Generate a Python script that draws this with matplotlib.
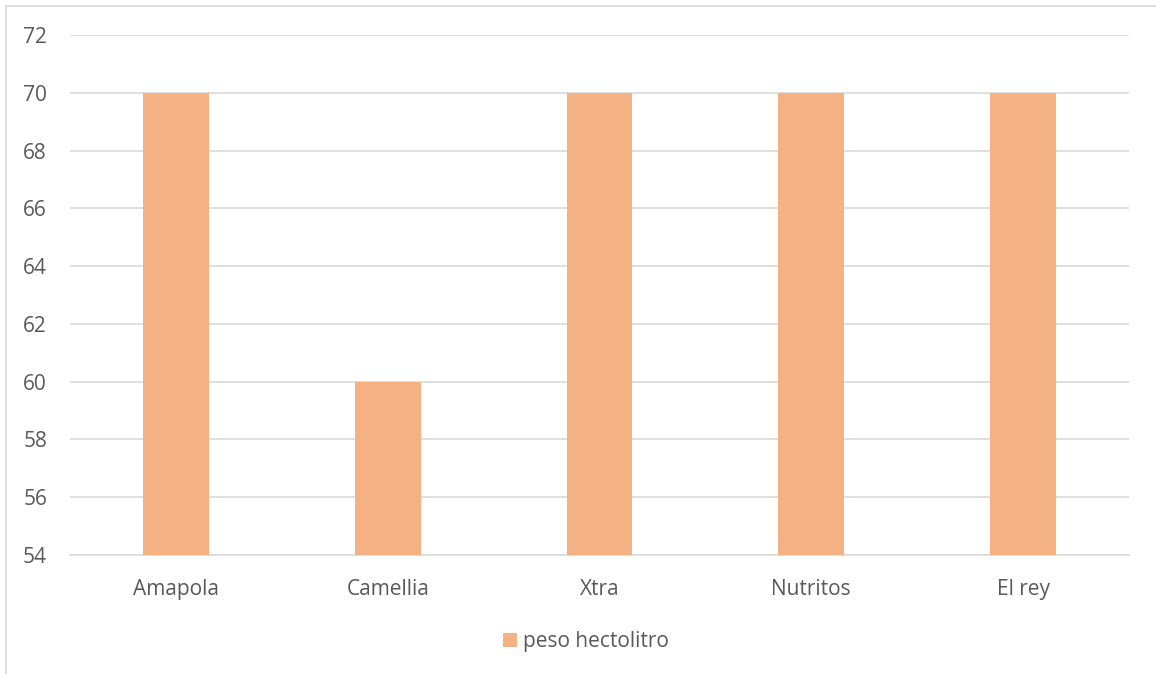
import matplotlib
matplotlib.use("Agg")
import matplotlib.pyplot as plt
from matplotlib.patches import Rectangle
import numpy as np

categories = ["Amapola", "Camellia", "Xtra", "Nutritos", "El rey"]
values = [70, 60, 70, 70, 70]
series_name = "peso hectolitro"
y_ticks = [54, 56, 58, 60, 62, 64, 66, 68, 70, 72]

bar_color = "#F4B183"
text_color = "#595959"
grid_color = "#D9D9D9"

plt.rcParams['font.family'] = ['Open Sans', 'DejaVu Sans']

W, H = 1156, 674
fig = plt.figure(figsize=(W / 100, H / 100), dpi=100)
fig.patch.set_facecolor("white")

# chart border (extends past right/bottom edges)
fig.patches.append(Rectangle((6 / W, -0.05), 1.2, 1 - 6 / H + 0.05,
                             transform=fig.transFigure, fill=False,
                             edgecolor=grid_color, linewidth=1.2))

ax = fig.add_axes([70 / W, 1 - 555 / H, (1129 - 70) / W, (555 - 35) / H])
x = np.arange(len(categories))
bottom = y_ticks[0]
heights = [v - bottom for v in values]
ax.bar(x, heights, bottom=bottom, width=0.31, color=bar_color, zorder=3,
       label=series_name)

ax.set_xlim(-0.5, len(categories) - 0.5)
ax.set_ylim(y_ticks[0], y_ticks[-1])
ax.set_yticks(y_ticks)
ax.set_yticklabels([str(t) for t in y_ticks])
ax.set_xticks(x)
ax.set_xticklabels(categories)

ax.yaxis.grid(True, color=grid_color, linewidth=1.2, zorder=0)
ax.xaxis.grid(False)
for s in ["top", "right", "left"]:
    ax.spines[s].set_visible(False)
ax.spines["bottom"].set_color(grid_color)
ax.spines["bottom"].set_linewidth(1.2)
ax.tick_params(axis="both", length=0, colors=text_color, labelsize=15)
ax.tick_params(axis="y", pad=16.5)
ax.tick_params(axis="x", pad=17)

leg = fig.legend(loc="center", bbox_to_anchor=(586 / W, 1 - 642 / H),
                 frameon=False, fontsize=15, handlelength=0.65,
                 handleheight=0.65, handletextpad=0.3, labelcolor=text_color)

fig.savefig("out.png", dpi=100, facecolor="white")
